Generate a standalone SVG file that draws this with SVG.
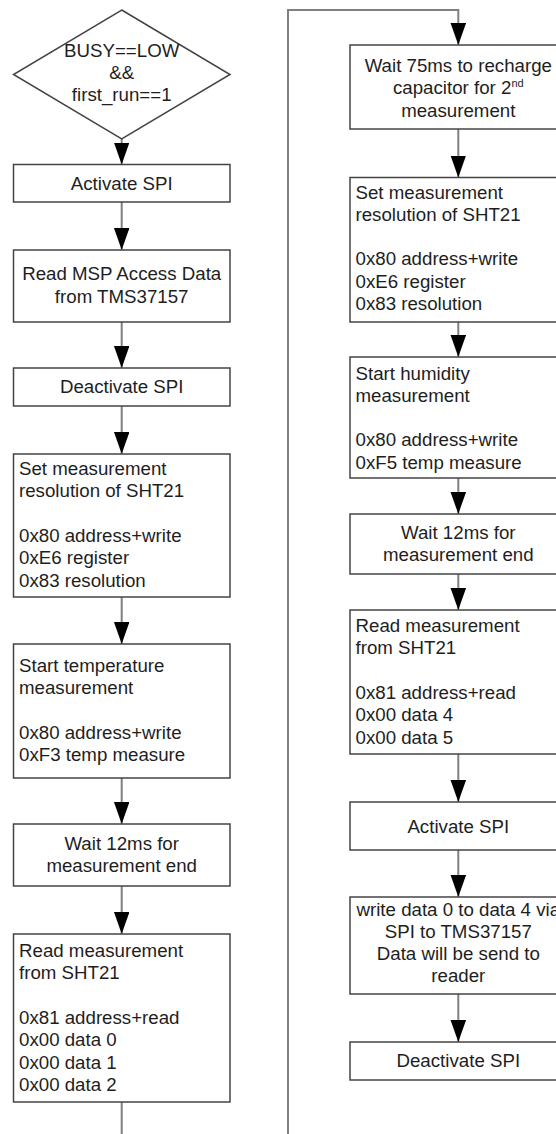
<svg xmlns="http://www.w3.org/2000/svg" width="556" height="1134" viewBox="0 0 556 1134">
<style>
  .box{fill:#fff;stroke:#444;stroke-width:1.5}
  .con{fill:none;stroke:#808080;stroke-width:2}
  text{font-family:"Liberation Sans",Arial,sans-serif;font-size:18.7px;fill:#1e1e1e}
  .c{text-anchor:middle}
  .sup{font-size:11px}
</style>
<defs>
  <marker id="ah" markerUnits="userSpaceOnUse" markerWidth="22" markerHeight="16" refX="22" refY="7.75" orient="auto">
    <path d="M0,0 L22,7.75 L0,15.5 Z" fill="#000"/>
  </marker>
</defs>
<rect width="556" height="1134" fill="#fff"/>

<g id="connectors">
  <line class="con" x1="121.7" y1="139" x2="121.7" y2="164.5" marker-end="url(#ah)"/>
  <line class="con" x1="121.7" y1="202" x2="121.7" y2="250" marker-end="url(#ah)"/>
  <line class="con" x1="121.7" y1="322" x2="121.7" y2="368" marker-end="url(#ah)"/>
  <line class="con" x1="121.7" y1="406" x2="121.7" y2="454" marker-end="url(#ah)"/>
  <line class="con" x1="121.7" y1="597" x2="121.7" y2="644" marker-end="url(#ah)"/>
  <line class="con" x1="121.7" y1="778" x2="121.7" y2="824" marker-end="url(#ah)"/>
  <line class="con" x1="121.7" y1="886" x2="121.7" y2="934" marker-end="url(#ah)"/>
  <line class="con" x1="121.7" y1="1102" x2="121.7" y2="1136"/>
  <path class="con" d="M288 1136 V10 H458.3 V45" marker-end="url(#ah)"/>
  <line class="con" x1="458.3" y1="129" x2="458.3" y2="177.5" marker-end="url(#ah)"/>
  <line class="con" x1="458.3" y1="322" x2="458.3" y2="357" marker-end="url(#ah)"/>
  <line class="con" x1="458.3" y1="478" x2="458.3" y2="514" marker-end="url(#ah)"/>
  <line class="con" x1="458.3" y1="574" x2="458.3" y2="610" marker-end="url(#ah)"/>
  <line class="con" x1="458.3" y1="754" x2="458.3" y2="802" marker-end="url(#ah)"/>
  <line class="con" x1="458.3" y1="850" x2="458.3" y2="897" marker-end="url(#ah)"/>
  <line class="con" x1="458.3" y1="994" x2="458.3" y2="1042" marker-end="url(#ah)"/>
</g>

<g id="n_decision">
  <polygon class="box" points="121.7,10 230,74.5 121.7,139 13.5,74.5"/>
  <text class="c" x="121.7" y="57">BUSY==LOW</text>
  <text class="c" x="121.7" y="79">&amp;&amp;</text>
  <text class="c" x="121.7" y="101">first_run==1</text>
</g>

<g id="n_activate1">
  <rect class="box" x="13.5" y="164.5" width="216.5" height="37.5"/>
  <text class="c" x="121.7" y="189.5">Activate SPI</text>
</g>

<g id="n_readmsp">
  <rect class="box" x="13.5" y="250" width="216.5" height="72"/>
  <text class="c" x="121.7" y="280">Read MSP Access Data</text>
  <text class="c" x="121.7" y="302.5">from TMS37157</text>
</g>

<g id="n_deactivate1">
  <rect class="box" x="13.5" y="368" width="216.5" height="38"/>
  <text class="c" x="121.7" y="393">Deactivate SPI</text>
</g>

<g id="n_setres1">
  <rect class="box" x="13.5" y="454" width="216.5" height="143"/>
  <text x="19" y="475">Set measurement</text>
  <text x="19" y="497.3">resolution of SHT21</text>
  <text x="19" y="541.9">0x80 address+write</text>
  <text x="19" y="564.2">0xE6 register</text>
  <text x="19" y="586.5">0x83 resolution</text>
</g>

<g id="n_starttemp">
  <rect class="box" x="13.5" y="644" width="216.5" height="134"/>
  <text x="19" y="672">Start temperature</text>
  <text x="19" y="694.3">measurement</text>
  <text x="19" y="738.9">0x80 address+write</text>
  <text x="19" y="761.2">0xF3 temp measure</text>
</g>

<g id="n_wait1">
  <rect class="box" x="13.5" y="824" width="216.5" height="62"/>
  <text class="c" x="121.7" y="850">Wait 12ms for</text>
  <text class="c" x="121.7" y="872.3">measurement end</text>
</g>

<g id="n_read1">
  <rect class="box" x="13.5" y="934" width="216.5" height="168"/>
  <text x="19" y="957">Read measurement</text>
  <text x="19" y="979.3">from SHT21</text>
  <text x="19" y="1023.9">0x81 address+read</text>
  <text x="19" y="1046.2">0x00 data 0</text>
  <text x="19" y="1068.5">0x00 data 1</text>
  <text x="19" y="1090.8">0x00 data 2</text>
</g>

<g id="n_wait75">
  <rect class="box" x="350" y="45" width="216.5" height="84"/>
  <text class="c" x="458.3" y="72">Wait 75ms to recharge</text>
  <text class="c" x="458.3" y="94.3">capacitor for 2<tspan class="sup" dy="-7">nd</tspan></text>
  <text class="c" x="458.3" y="116.6">measurement</text>
</g>

<g id="n_setres2">
  <rect class="box" x="350" y="177.5" width="216.5" height="144.5"/>
  <text x="355.5" y="198.5">Set measurement</text>
  <text x="355.5" y="220.8">resolution of SHT21</text>
  <text x="355.5" y="265.4">0x80 address+write</text>
  <text x="355.5" y="287.7">0xE6 register</text>
  <text x="355.5" y="310">0x83 resolution</text>
</g>

<g id="n_starthum">
  <rect class="box" x="350" y="357" width="216.5" height="121"/>
  <text x="355.5" y="379.5">Start humidity</text>
  <text x="355.5" y="401.8">measurement</text>
  <text x="355.5" y="446.4">0x80 address+write</text>
  <text x="355.5" y="468.7">0xF5 temp measure</text>
</g>

<g id="n_wait2">
  <rect class="box" x="350" y="514" width="216.5" height="60"/>
  <text class="c" x="458.3" y="539">Wait 12ms for</text>
  <text class="c" x="458.3" y="561.3">measurement end</text>
</g>

<g id="n_read2">
  <rect class="box" x="350" y="610" width="216.5" height="144"/>
  <text x="355.5" y="632">Read measurement</text>
  <text x="355.5" y="654.3">from SHT21</text>
  <text x="355.5" y="698.9">0x81 address+read</text>
  <text x="355.5" y="721.2">0x00 data 4</text>
  <text x="355.5" y="743.5">0x00 data 5</text>
</g>

<g id="n_activate2">
  <rect class="box" x="350" y="802" width="216.5" height="48"/>
  <text class="c" x="458.3" y="832.5">Activate SPI</text>
</g>

<g id="n_write">
  <rect class="box" x="350" y="897" width="216.5" height="97"/>
  <text class="c" x="458.3" y="915.5">write data 0 to data 4 via</text>
  <text class="c" x="458.3" y="937.8">SPI to TMS37157</text>
  <text class="c" x="458.3" y="960.1">Data will be send to</text>
  <text class="c" x="458.3" y="982.4">reader</text>
</g>

<g id="n_deactivate2">
  <rect class="box" x="350" y="1042" width="216.5" height="38"/>
  <text class="c" x="458.3" y="1067">Deactivate SPI</text>
</g>
</svg>
